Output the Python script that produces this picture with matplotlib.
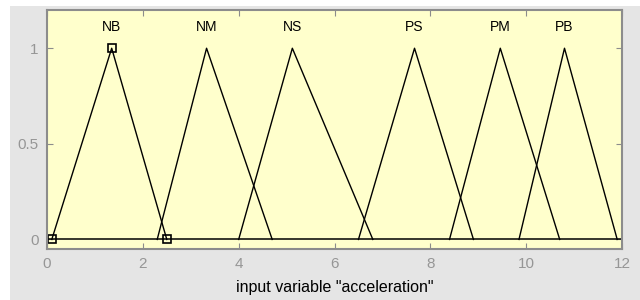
import matplotlib.pyplot as plt
from matplotlib.patches import Rectangle

# membership functions: (name, [a, b, c]) of a triangular mf
mf_names = ["NB", "NM", "NS", "PS", "PM", "PB"]
mf_params = [
    [0.1, 1.35, 2.5],
    [2.3, 3.33, 4.7],
    [4.0, 5.12, 6.8],
    [6.5, 7.67, 8.9],
    [8.4, 9.46, 10.7],
    [9.85, 10.8, 11.9],
]
x_range = [0, 12]
x_ticks = [0, 2, 4, 6, 8, 10, 12]
y_ticks = [0, 0.5, 1]
y_tick_labels = ["0", "0.5", "1"]
selected = 0  # NB is highlighted with square markers

plt.rcParams["font.family"] = ["Liberation Sans", "DejaVu Sans"]

fig = plt.figure(figsize=(6.4, 3.0), dpi=100, facecolor="white")
# grey panel behind the axes
fig.patches.append(
    Rectangle((10 / 640, 0), 1, 1 - 6 / 300, transform=fig.transFigure,
              facecolor="#e5e5e5", edgecolor="none", zorder=-10)
)

ax = fig.add_axes([47 / 640, 51 / 300, 575 / 640, 239 / 300])
ax.set_facecolor("#ffffcc")

ax.plot(x_range, [0, 0], color="black", lw=1.1)
for name, p in zip(mf_names, mf_params):
    ax.plot(p, [0, 1, 0], color="black", lw=1.0)
    ax.text(p[1], 1.11, name, ha="center", va="center", fontsize=10)

sel = mf_params[selected]
ax.plot(sel, [0, 1, 0], ls="none", marker="s", ms=6, mfc="none",
        mec="black", mew=1.2)

ax.set_xlim(x_range)
ax.set_ylim(-0.05, 1.2)
ax.set_xticks(x_ticks)
ax.set_yticks(y_ticks)
ax.set_yticklabels(y_tick_labels)
ax.tick_params(direction="in", length=4, color="#8c8c8c", labelcolor="#969696",
               labelsize=11, top=True, right=True)
ax.tick_params(axis="x", pad=6)
ax.tick_params(axis="y", pad=6)
for s in ax.spines.values():
    s.set_color("#8c8c8c")
    s.set_linewidth(1.5)
ax.set_xlabel('input variable "acceleration"', fontsize=11.5, labelpad=6)

fig.savefig("out.png", dpi=100, facecolor=fig.get_facecolor())
